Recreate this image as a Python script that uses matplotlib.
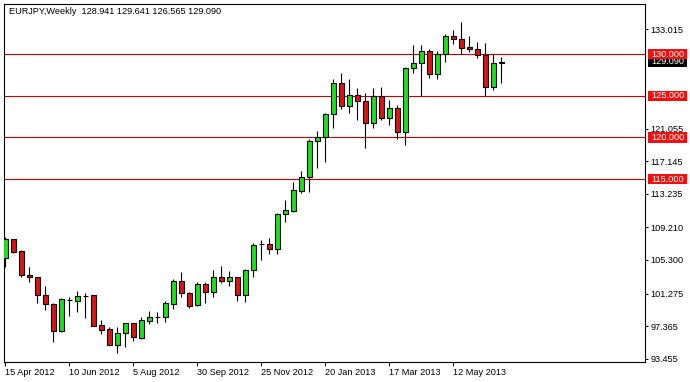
import pandas as pd
import matplotlib.pyplot as plt
from matplotlib import transforms
from matplotlib.patches import Rectangle

plt.rcParams['font.family'] = ['Liberation Sans', 'DejaVu Sans']

# === data ===
symbol = "EURJPY,Weekly"
first_week = "2012-04-15"

opens = [105.50, 107.78, 106.38, 103.50, 103.22, 101.06, 99.98, 96.78, 100.50, 100.41,
         100.98, 101.10, 97.46, 96.98, 95.13, 96.50, 97.70, 95.97, 98.01, 98.42,
         98.42, 100.05, 102.78, 101.34, 99.86, 102.42, 101.46, 103.22, 102.81, 103.22,
         101.06, 104.06, 107.16, 107.22, 106.58, 110.78, 111.21, 113.61, 115.22, 119.54,
         120.09, 122.78, 126.50, 123.78, 125.10, 124.38, 121.70, 124.98, 122.28, 123.50,
         120.69, 128.30, 128.90, 130.38, 127.58, 129.98, 132.18, 131.78, 130.86, 130.58,
         129.86, 126.02, 128.941]
highs = [108.06, 107.80, 106.50, 104.42, 103.29, 102.18, 100.10, 100.77, 100.89, 101.58,
         101.30, 101.12, 98.10, 97.29, 97.29, 97.77, 97.77, 98.42, 99.18, 99.02,
         100.38, 103.05, 103.89, 101.49, 102.62, 102.62, 104.10, 104.58, 103.98, 103.29,
         104.18, 107.30, 107.70, 107.88, 110.90, 112.50, 114.66, 115.98, 119.78, 120.78,
         122.90, 126.98, 127.70, 126.98, 125.90, 125.30, 125.90, 126.09, 124.50, 123.90,
         128.49, 131.10, 131.10, 130.58, 130.38, 132.38, 132.90, 133.89, 132.18, 131.49,
         131.30, 129.98, 129.641]
lows = [104.49, 106.10, 103.22, 102.69, 100.17, 99.30, 95.49, 96.70, 98.58, 99.09,
        98.30, 97.39, 96.38, 95.10, 94.10, 94.89, 95.61, 95.85, 97.62, 97.77,
        97.89, 99.42, 100.89, 99.57, 99.74, 100.10, 100.89, 102.57, 102.18, 100.34,
        100.29, 103.29, 105.30, 106.02, 105.96, 109.89, 111.09, 113.37, 113.49, 116.37,
        117.02, 121.17, 123.38, 122.90, 122.10, 118.70, 121.10, 122.10, 121.44, 119.82,
        119.10, 127.70, 124.98, 127.10, 126.98, 129.02, 131.18, 129.98, 130.22, 129.57,
        124.98, 125.70, 126.565]
closes = [107.78, 106.29, 103.50, 103.22, 101.06, 100.02, 96.78, 100.58, 100.50, 100.98,
          100.98, 97.41, 96.93, 95.13, 96.50, 97.70, 96.02, 98.10, 98.42, 98.42,
          100.10, 102.78, 101.30, 99.78, 102.42, 101.42, 103.22, 102.81, 103.22, 101.06,
          104.06, 107.10, 107.16, 106.58, 110.82, 111.26, 113.66, 115.22, 119.58, 120.09,
          122.78, 126.50, 123.78, 125.10, 124.38, 121.70, 124.98, 122.28, 123.50, 120.69,
          128.34, 128.90, 130.38, 127.58, 129.98, 132.18, 131.78, 130.77, 130.58, 129.86,
          126.02, 128.90, 129.090]

levels = [130.0, 125.0, 120.0, 115.0]
price_ticks = [133.015, 121.055, 117.145, 113.235, 109.210, 105.300, 101.275, 97.365, 93.455]
date_labels = ['15 Apr 2012', '10 Jun 2012', '5 Aug 2012', '30 Sep 2012',
               '25 Nov 2012', '20 Jan 2013', '17 Mar 2013', '12 May 2013']

# === chart ===
weeks = pd.date_range(first_week, periods=len(opens), freq='W-SUN')
x = list(range(len(weeks)))

bull = '#1ee01e'
bear = '#dc1414'
colors = [bull if c > o else bear for o, c in zip(opens, closes)]
heights = [c - o for o, c in zip(opens, closes)]

fig = plt.figure(figsize=(6.9, 3.82), dpi=100)
ax = fig.add_axes([4 / 690, 20 / 382, 641 / 690, 358 / 382])

for lv in levels:
    ax.axhline(lv, color='#c80000', lw=0.8, zorder=1)

ax.vlines(x, lows, highs, color='black', lw=0.8, zorder=2)
ax.bar(x, heights, bottom=opens, width=0.62, color=colors,
       edgecolor='black', linewidth=0.8, zorder=3)

ax.set_xlim(-0.16, 79.96)
ax.set_ylim(93.055, 136.015)

# right price scale
ax.yaxis.tick_right()
ax.set_yticks(price_ticks, [f"{v:.3f}" for v in price_ticks])
ax.tick_params(axis='y', length=2.2, width=0.7, pad=1.6, labelsize=6.6)

# date scale
tick_pos = weeks.get_indexer(pd.to_datetime(date_labels, format='%d %b %Y'))
ax.set_xticks(tick_pos, date_labels)
for lbl in ax.get_xticklabels():
    lbl.set_horizontalalignment('left')
ax.tick_params(axis='x', length=3, width=0.7, pad=1.2, labelsize=6.6)

for sp in ax.spines.values():
    sp.set_color('black')
    sp.set_linewidth(0.8)

# price labels on the right scale
trans = transforms.blended_transform_factory(ax.transAxes, ax.transData)
ax.add_patch(Rectangle((1.0047, closes[-1] - 0.6), 0.0608, 1.2, transform=trans,
                       clip_on=False, facecolor='black', edgecolor='none', zorder=4))
ax.text(1.0094, closes[-1], f"{closes[-1]:.3f}", transform=trans, color='white',
        fontsize=6.6, va='center', ha='left', clip_on=False, zorder=4.5)
for lv in levels:
    ax.add_patch(Rectangle((1.0047, lv - 0.62), 0.0608, 1.24, transform=trans,
                           clip_on=False, facecolor='#f01010', edgecolor='none', zorder=5))
    ax.text(1.0094, lv, f"{lv:.3f}", transform=trans, color='white',
            fontsize=6.6, va='center', ha='left', clip_on=False, zorder=6)

fig.text(9 / 690, 1 - 12 / 382,
         f"{symbol}  {opens[-1]:.3f} {highs[-1]:.3f} {lows[-1]:.3f} {closes[-1]:.3f}",
         fontsize=6.6, va='center', ha='left')

fig.savefig('out.png', dpi=100, facecolor='white')
